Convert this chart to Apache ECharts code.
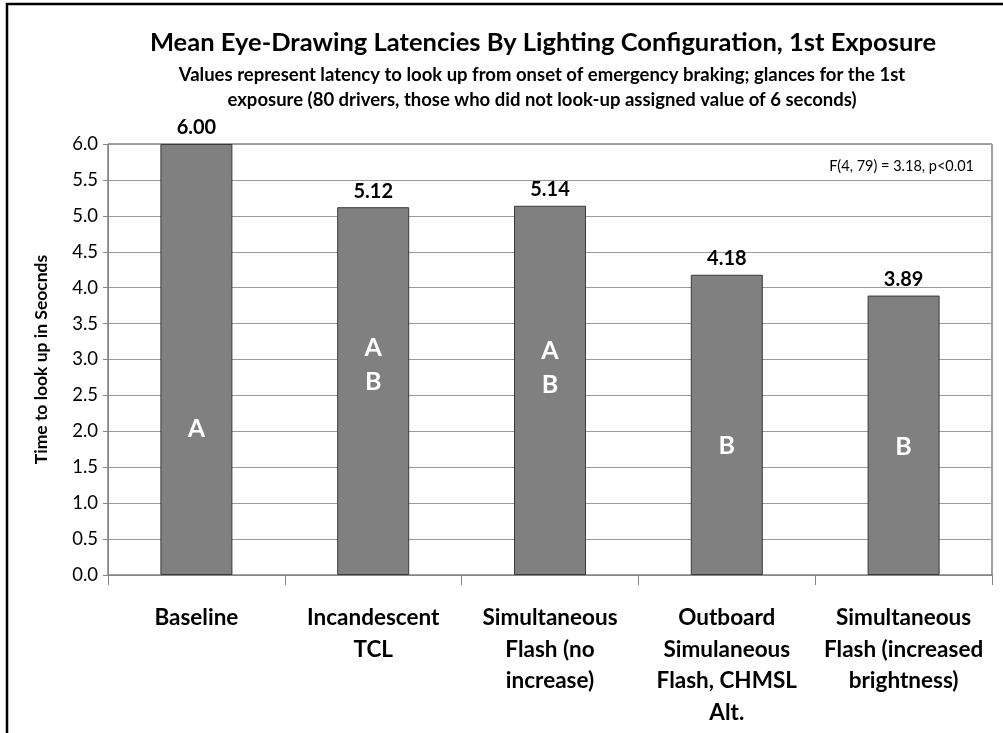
<!DOCTYPE html>
<html lang="en">
<head>
    <meta charset="UTF-8">
    <title>Mean Eye-Drawing Latencies</title>
    <style>
        html, body { margin: 0; padding: 0; background: #fff; }
        #chartContainer { width: 1003px; height: 733px; }
    </style>
    <script src="https://cdnjs.cloudflare.com/ajax/libs/echarts/6.0.0/echarts.min.js"></script>
</head>
<body>
    <div id="chartContainer"></div>
    <script>
        // data
        const categories = [
            'Baseline',
            'Incandescent\nTCL',
            'Simultaneous\nFlash (no\nincrease)',
            'Outboard\nSimulaneous\nFlash, CHMSL\nAlt.',
            'Simultaneous\nFlash (increased\nbrightness)'
        ];
        const latencies = [6.00, 5.12, 5.14, 4.18, 3.89];
        const groups = ['A', 'A\nB', 'A\nB', 'B', 'B'];
        const yTicks = [0, 0.5, 1, 1.5, 2, 2.5, 3, 3.5, 4, 4.5, 5, 5.5, 6];

        // where the group letters sit inside each bar (fraction from bar top)
        const letterPos = ['66%', '43%', '44%', '57%', '54%'];

        const font = 'Lato, "Open Sans", sans-serif';

        var chartDom = document.getElementById('chartContainer');
        var myChart = echarts.init(chartDom);

        const option = {
            animation: false,
            textStyle: { fontFamily: font },
            title: [{
                text: 'Mean Eye-Drawing Latencies By Lighting Configuration, 1st Exposure',
                left: 538, top: 25, textAlign: 'center',
                textStyle: { fontFamily: font, fontSize: 25.5, fontWeight: 'bold', color: '#000' }
            }, {
                text: 'Values represent latency to look up from onset of emergency braking; glances for the 1st\nexposure (80 drivers, those who did not look-up assigned value of 6 seconds)',
                left: 537, top: 58, textAlign: 'center',
                textStyle: { fontFamily: font, fontSize: 18.5, fontWeight: 'bold', color: '#000', lineHeight: 25 }
            }],
            graphic: [{
                type: 'rect',
                shape: { x: 7, y: 4, width: 1010, height: 760 },
                style: { fill: null, stroke: '#000', lineWidth: 2.5 },
                silent: true
            }, {
                type: 'text',
                right: 29, top: 159,
                style: { text: 'F(4, 79) = 3.18, p<0.01', font: '14.5px ' + font, fill: '#000' }
            }],
            grid: {
                left: 108, right: 11, top: 144, bottom: 158,
                show: true, borderColor: '#404040', borderWidth: 1, containLabel: false
            },
            xAxis: {
                type: 'category',
                data: categories,
                axisLine: { lineStyle: { color: '#868686' } },
                axisTick: { show: true, length: 10, lineStyle: { color: '#868686' } },
                axisLabel: {
                    interval: 0, margin: 27, color: '#000', fontFamily: font,
                    fontSize: 22.5, fontWeight: 'bold', lineHeight: 31.5, verticalAlign: 'top'
                }
            },
            yAxis: {
                type: 'value',
                min: 0, max: 6, interval: 0.5,
                name: 'Time to look up in Seocnds',
                nameLocation: 'middle', nameGap: 58,
                nameTextStyle: { fontFamily: font, fontSize: 17.5, fontWeight: 'bold', color: '#000' },
                axisLine: { show: true, lineStyle: { color: '#868686' } },
                axisTick: { show: true, length: 5, lineStyle: { color: '#868686' } },
                axisLabel: {
                    margin: 10, color: '#000', fontFamily: font, fontSize: 18.5,
                    formatter: v => yTicks.indexOf(v) >= 0 ? v.toFixed(1) : ''
                },
                splitLine: { lineStyle: { color: '#9a9a9a' } }
            },
            series: [{
                type: 'bar',
                data: latencies,
                barWidth: 72,
                itemStyle: { color: '#808080', borderColor: '#3a3a3a', borderWidth: 1 },
                label: {
                    show: true, position: 'top', distance: 6,
                    formatter: p => p.value.toFixed(2),
                    color: '#000', fontFamily: font, fontSize: 20, fontWeight: 'bold'
                },
                z: 2
            }, {
                type: 'bar',
                barGap: '-100%',
                barWidth: 72,
                data: latencies.map((v, i) => ({
                    value: v,
                    label: { position: ['50%', letterPos[i]] }
                })),
                itemStyle: { color: 'rgba(0,0,0,0)' },
                label: {
                    show: true,
                    formatter: p => groups[p.dataIndex],
                    align: 'center', verticalAlign: 'middle',
                    color: '#fff', fontFamily: font, fontSize: 25, fontWeight: 'bold', lineHeight: 34
                },
                z: 3,
                silent: true
            }]
        };

        myChart.setOption(option);
    </script>
</body>
</html>
